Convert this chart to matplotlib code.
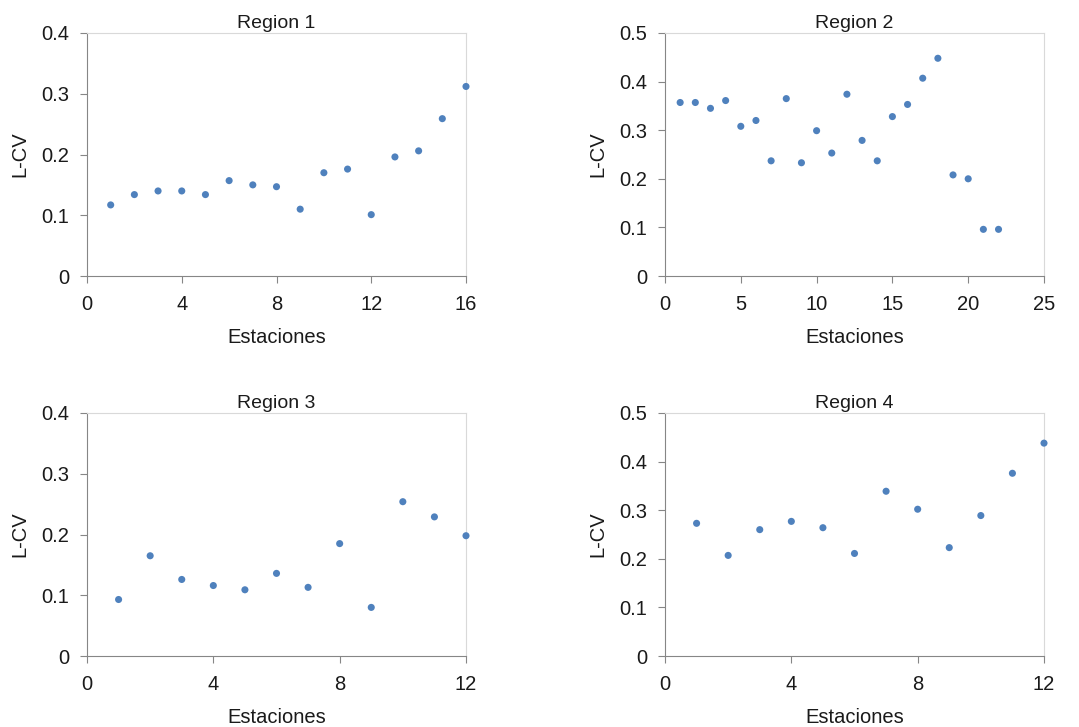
import matplotlib
matplotlib.use("Agg")
import matplotlib.pyplot as plt
from matplotlib.ticker import FuncFormatter

BLUE = "#4F81BD"; AXIS = "#868686"; FRAME = "#D9D9D9"; INK = "#1A1A1A"
plt.rcParams.update({"font.family": ["Liberation Sans", "DejaVu Sans"], "text.color": INK,
                     "axes.labelcolor": INK, "xtick.color": INK, "ytick.color": INK})

# L-CV per station
titles = ["Region 1", "Region 2", "Region 3", "Region 4"]
lcv_r1 = [0.117, 0.134, 0.140, 0.140, 0.134, 0.157, 0.150, 0.147,
          0.110, 0.170, 0.176, 0.101, 0.196, 0.206, 0.259, 0.312]
lcv_r2 = [0.357, 0.357, 0.345, 0.361, 0.308, 0.320, 0.237, 0.365, 0.233, 0.299, 0.253,
          0.374, 0.279, 0.237, 0.328, 0.353, 0.407, 0.448, 0.208, 0.200, 0.096, 0.096]
lcv_r3 = [0.093, 0.165, 0.126, 0.116, 0.109, 0.136, 0.113, 0.185, 0.080, 0.254, 0.229, 0.198]
lcv_r4 = [0.273, 0.207, 0.260, 0.277, 0.264, 0.211, 0.339, 0.302, 0.223, 0.289, 0.376, 0.438]
series = [lcv_r1, lcv_r2, lcv_r3, lcv_r4]
xmax = [16, 25, 12, 12]
xstep = [4, 5, 4, 4]
ymax = [0.4, 0.5, 0.4, 0.5]

fig = plt.figure(figsize=(10.79, 7.27), dpi=100)
W, H = 1079, 727
boxes = [(87, 33), (665, 33), (87, 413), (665, 413)]   # left, top in px
aw, ah = 379, 243

fmt = FuncFormatter(lambda v, p: f"{v:g}")
for i in range(4):
    l, t = boxes[i]
    ax = fig.add_axes([l / W, 1 - (t + ah) / H, aw / W, ah / H])
    y = series[i]
    x = list(range(1, len(y) + 1))
    ax.scatter(x, y, s=26, color=BLUE, edgecolors="none", zorder=3, clip_on=False)
    ax.set_xlim(0, xmax[i]); ax.set_ylim(0, ymax[i])
    ax.set_xticks(range(0, xmax[i] + 1, xstep[i]))
    ax.set_yticks([k / 10 for k in range(int(round(ymax[i] * 10)) + 1)])
    ax.xaxis.set_major_formatter(fmt); ax.yaxis.set_major_formatter(fmt)
    for s in ["top", "right"]:
        ax.spines[s].set_color(FRAME)
    for s in ["left", "bottom"]:
        ax.spines[s].set_color(AXIS)
    ax.tick_params(direction="out", length=5, width=0.8, color=AXIS, labelsize=14.5)
    ax.tick_params(axis="x", pad=9)
    ax.tick_params(axis="y", pad=8)
    ax.set_title(titles[i], fontsize=14, pad=3.5)
    ax.set_xlabel("Estaciones", fontsize=14.5, labelpad=10)
    ax.set_ylabel("L-CV", fontsize=14.5, labelpad=8)

fig.savefig("out.png", dpi=100)
